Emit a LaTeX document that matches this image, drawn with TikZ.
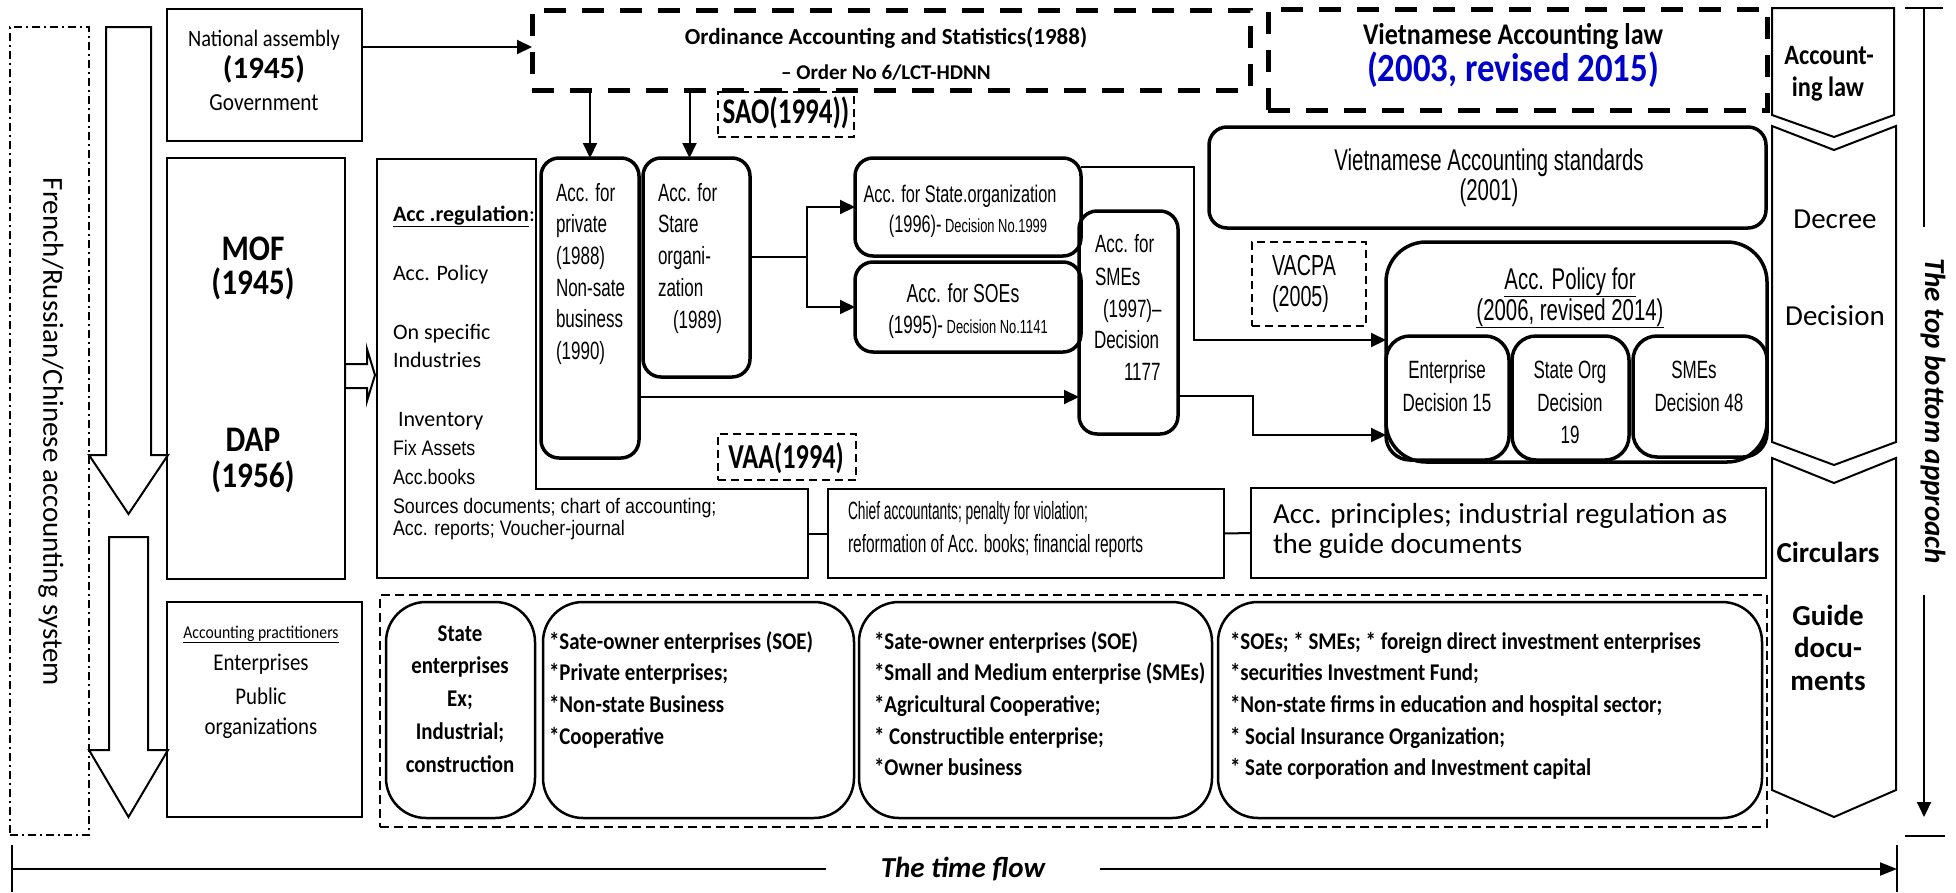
\documentclass[tikz,border=0pt]{standalone}
\usepackage{fontspec}
\setmainfont{Carlito}
\newfontfamily\calcond[FakeStretch=0.87]{Carlito}
\newfontfamily\calvcond[FakeStretch=0.75]{Carlito}
\newfontfamily\arnar[FakeStretch=0.85]{Liberation Sans}
\newfontfamily\arcond[FakeStretch=0.68]{Liberation Sans}
\newfontfamily\arcondb[FakeStretch=0.62]{Liberation Sans}
\newfontfamily\arxcond[FakeStretch=0.55]{Liberation Sans}
\usetikzlibrary{arrows.meta}
\definecolor{lawblue}{RGB}{0,0,204}
\newcommand\fsz[1]{\fontsize{#1}{#1}\selectfont}
% box from corner (x1,y1) to (x2,y2): name, style, x1, y1, x2, y2
\newcommand\placebox[6]{%
  \pgfmathsetmacro\pbw{#5-(#3)}%
  \pgfmathsetmacro\pbh{#6-(#4)}%
  \pgfmathsetmacro\pbx{(#3+#5)/2}%
  \pgfmathsetmacro\pby{(#4+#6)/2}%
  \node[#2,minimum width=\pbw pt,minimum height=\pbh pt] (#1) at (\pbx,\pby) {};}
\tikzset{
  every node/.style={inner sep=0pt, outer sep=0pt},
  plainbox/.style={draw, line width=2.2pt},
  thickbox/.style={draw, line width=3.5pt, rounded corners=18pt},
  lawbox/.style={draw, line width=5pt, dash pattern=on 22pt off 16pt},
  tagbox/.style={draw, line width=1.8pt, dash pattern=on 8pt off 5pt},
  groupbox/.style={draw, line width=1.8pt, dash pattern=on 9pt off 5pt},
  itembox/.style={draw, line width=2.5pt, rounded corners=40pt},
  link/.style={line width=2pt},
  arr/.style={link, -{Triangle[length=15pt,width=14pt]}},
  chev/.style={draw, line width=2pt},
}
\begin{document}
\begin{tikzpicture}[x=1pt,y=-1pt]
\useasboundingbox (0,0) rectangle (1956,892);

% ---------- left column ----------
\placebox{frs}{draw, line width=1.8pt, dash pattern=on 8pt off 4pt on 2pt off 4pt}{10}{27}{89}{835}
\node[rotate=-90, font=\fsz{29}] (frt) at (51,432) {French/Russian/Chinese accounting system};
\draw[chev] (106,27) -- (151,27) -- (151,455) -- (168,455) -- (128.5,514) -- (89,455) -- (106,455) -- cycle;
\draw[chev] (109,537) -- (148,537) -- (148,750) -- (168,750) -- (128.5,817) -- (89,750) -- (109,750) -- cycle;

\placebox{nat}{plainbox}{167}{9}{362}{141}
\node[font=\calcond\fsz{23.5}, anchor=base] (nat-1) at (264,46) {National assembly};
\node[font=\bfseries\fsz{31}, anchor=base] (nat-2) at (264,78) {(1945)};
\node[font=\calcond\fsz{24.5}, anchor=base] (nat-3) at (264,110) {Government};

\placebox{mof}{plainbox}{167}{158}{345}{579}
\node[font=\calcond\bfseries\fsz{36}, anchor=base] (mof-1) at (253,260) {MOF};
\node[font=\calcond\bfseries\fsz{36}, anchor=base] (mof-2) at (253,294) {(1945)};
\node[font=\calcond\bfseries\fsz{36}, anchor=base] (dap-1) at (253,451) {DAP};
\node[font=\calcond\bfseries\fsz{36}, anchor=base] (dap-2) at (253,487) {(1956)};

\placebox{prac}{plainbox}{167}{602}{362}{817}
\node[font=\calcond\fsz{18}, anchor=base] (prac-1) at (261,638) {\underline{Accounting practitioners}};
\node[font=\calcond\fsz{24}, anchor=base] (prac-2) at (261,670) {Enterprises};
\node[font=\calcond\fsz{24}, anchor=base] (prac-3) at (261,704) {Public};
\node[font=\calcond\fsz{24}, anchor=base] (prac-4) at (261,734) {organizations};

% hollow arrow MOF -> regulations
\draw[chev] (345,364) -- (367,364) -- (367,349) -- (375,375) -- (367,401) -- (367,388) -- (345,388) -- cycle;

% ---------- regulation block ----------
\draw[link] (377,159) -- (536,159) -- (536,489) -- (808,489) -- (808,578) -- (377,578) -- cycle;
\placebox{reg}{}{377}{489}{808}{578}
\node[font=\fsz{22}, anchor=base west] (rg-1) at (393,221) {\textbf{\underline{Acc .regulation}}:};
\node[font=\fsz{22}, anchor=base west] (rg-2) at (393,280) {Acc. Policy};
\node[font=\fsz{22}, anchor=base west] (rg-3) at (393,339) {On specific};
\node[font=\fsz{22}, anchor=base west] (rg-4) at (393,367) {Industries};
\node[font=\fsz{22}, anchor=base west] (rg-5) at (398,426) {Inventory};
\node[font=\arnar\fsz{21}, anchor=base west] (rg-6) at (393,455) {Fix Assets};
\node[font=\arnar\fsz{21}, anchor=base west] (rg-7) at (393,484) {Acc.books};
\node[font=\arnar\fsz{21}, anchor=base west] (rg-8) at (393,513) {Sources documents; chart of accounting;};
\node[font=\arnar\fsz{21}, anchor=base west] (rg-9) at (393,535) {Acc. reports; Voucher-journal};

% ---------- laws ----------
\placebox{ord}{lawbox}{532}{10}{1250}{90}
\node[font=\bfseries\fsz{23}, anchor=base] (ord-1) at (886,44) {Ordinance Accounting and Statistics(1988)};
\node[font=\bfseries\fsz{21}, anchor=base] (ord-2) at (886,79) {– Order No 6/LCT-HDNN};

\placebox{val}{lawbox}{1268}{9}{1767}{110}
\node[font=\calcond\bfseries\fsz{30}, anchor=base] (val-1) at (1513,44) {Vietnamese Accounting law};
\node[font=\calcond\bfseries\fsz{40}, text=lawblue, anchor=base] (val-2) at (1513,81) {(2003, revised 2015)};

\placebox{sao}{tagbox}{718}{92}{854}{137}
\node[font=\calvcond\bfseries\fsz{36}, anchor=base] (sao-t) at (786,123) {SAO(1994))};

\draw[arr] ([yshift=-38pt]nat.north east) -- ([yshift=-38pt]nat.north east -| ord.west);

% ---------- accounting regimes ----------
\placebox{priv}{thickbox}{541}{158}{639}{458}
\foreach \t [count=\i] in {{Acc. for},{private},{(1988)},{Non-sate},{business},{(1990)}}
  \node[font=\arcond\fsz{25}, anchor=base west] (priv-\i) at (556,{201+31.7*(\i-1)}) {\t};

\placebox{stare}{thickbox}{643}{158}{750}{377}
\foreach \t [count=\i] in {{Acc. for},{Stare},{organi-},{zation}}
  \node[font=\arcond\fsz{25}, anchor=base west] (stare-\i) at (658,{201+31.7*(\i-1)}) {\t};
\node[font=\arcond\fsz{25}, anchor=base west] (stare-5) at (673,328) {(1989)};

\draw[arr] (priv.north |- ord.south) -- (priv.north);
\draw[arr] ([xshift=-7pt]stare.north |- ord.south) -- ([xshift=-7pt]stare.north);

\placebox{sorg}{thickbox}{855}{158}{1081}{256}
\node[font=\arcond\fsz{24}, anchor=base] (sorg-1) at (960,202) {Acc. for State.organization};
\node[font=\arcond\fsz{24}, anchor=base] (sorg-2) at (968,232) {(1996)-\fsz{19} Decision No.1999};

\placebox{soe}{thickbox}{855}{262}{1081}{352}
\node[font=\arcond\fsz{26}, anchor=base] (soe-1) at (963,302) {Acc. for SOEs};
\node[font=\arcond\fsz{25}, anchor=base] (soe-2) at (968,333) {(1995)-\fsz{19} Decision No.1141};

\coordinate (brn) at (807,257);
\draw[link] (stare.east |- brn) -- (brn);
\draw[arr] (brn) |- (sorg.west);
\draw[arr] (brn) |- (soe.west);

\placebox{smes}{thickbox}{1079}{211}{1178}{434}
\node[font=\arcond\fsz{25}, anchor=base west] (smes-1) at (1095,252) {Acc. for};
\node[font=\arcond\fsz{25}, anchor=base west] (smes-2) at (1095,285) {SMEs};
\node[font=\arcond\fsz{25}, anchor=base west] (smes-3) at (1103,317) {(1997)–};
\node[font=\arcond\fsz{25}, anchor=base west] (smes-4) at (1094,348) {Decision};
\node[font=\arcond\fsz{25}, anchor=base west] (smes-5) at (1124,380) {1177};

\draw[arr] ([yshift=-89pt]priv.east) -- ([yshift=-89pt]priv.east -| smes.west);

\placebox{vaa}{tagbox}{718}{434}{856}{480}
\node[font=\calvcond\bfseries\fsz{35}, anchor=base] (vaa-t) at (786,468) {VAA(1994)};

% ---------- standards and policies ----------
\placebox{vas}{thickbox}{1209}{127}{1766}{228}
\node[font=\arcond\fsz{30}, anchor=base] (vas-1) at (1489,170) {Vietnamese Accounting standards};
\node[font=\arcond\fsz{30}, anchor=base] (vas-2) at (1489,200) {(2001)};

\placebox{vacpa}{tagbox}{1252}{242}{1366}{326}
\node[font=\arcond\fsz{29}, anchor=base west] (vacpa-1) at (1272,275) {VACPA};
\node[font=\arcond\fsz{29}, anchor=base west] (vacpa-2) at (1272,306) {(2005)};

\placebox{pol}{thickbox, rounded corners=40pt}{1386}{242}{1767}{462}
\node[font=\arcond\fsz{30}, anchor=base] (pol-1) at (1570,289) {\underline{Acc. Policy for}};
\node[font=\arcond\fsz{30}, anchor=base] (pol-2) at (1570,320) {\underline{(2006, revised 2014)}};

\placebox{ent}{thickbox, rounded corners=24pt}{1386}{336}{1509}{460}
\node[font=\arcond\fsz{25}, anchor=base] (ent-1) at (1447,378) {Enterprise};
\node[font=\arcond\fsz{25}, anchor=base] (ent-2) at (1447,411) {Decision 15};

\placebox{sorgb}{thickbox, rounded corners=24pt}{1512}{336}{1629}{460}
\node[font=\arcond\fsz{25}, anchor=base] (sorgb-1) at (1570,378) {State Org};
\node[font=\arcond\fsz{25}, anchor=base] (sorgb-2) at (1570,411) {Decision};
\node[font=\arcond\fsz{25}, anchor=base] (sorgb-3) at (1570,443) {19};

\placebox{smesb}{thickbox, rounded corners=24pt}{1633}{336}{1767}{457}
\node[font=\arcond\fsz{25}, anchor=base] (smesb-1) at (1694,378) {SMEs};
\node[font=\arcond\fsz{25}, anchor=base] (smesb-2) at (1699,411) {Decision 48};

\draw[arr] ([yshift=-9pt]sorg.north east) -- ++(113,0) |- ([yshift=12pt]pol.west);
\draw[arr] ([yshift=-73.5pt]smes.east) -- ++(75,0) |- ([yshift=-37pt]ent.west);

% ---------- circulars row ----------
\placebox{chief}{plainbox}{828}{489}{1224}{578}
\node[font=\arxcond\fsz{25}, anchor=base west] (chief-1) at (848,519) {Chief accountants; penalty for violation;};
\node[font=\arcondb\fsz{25}, anchor=base west] (chief-2) at (848,552) {reformation of Acc. books; financial reports};

\placebox{acp}{plainbox}{1251}{488}{1766}{578}
\node[font=\fsz{29}, anchor=base west] (acp-1) at (1273,523) {Acc. principles; industrial regulation as};
\node[font=\fsz{29}, anchor=base west] (acp-2) at (1273,553) {the guide documents};

\draw[link] (reg.east) -- (chief.west);
\draw[link] (chief.east) -- (acp.west);

% ---------- guide documents row ----------
\placebox{grp}{groupbox}{380}{595}{1767}{827}
\placebox{bx1}{itembox}{386}{602}{535}{818}
\placebox{bx2}{itembox}{543}{602}{854}{818}
\placebox{bx3}{itembox}{859}{602}{1212}{818}
\placebox{bx4}{itembox}{1218}{602}{1762}{818}
\foreach \t [count=\i] in {{State},{enterprises},{Ex;},{Industrial;},{construction}}
  \node[font=\calcond\bfseries\fsz{24}, anchor=base] (bx1-\i) at (460,{641+32.8*(\i-1)}) {\t};
\foreach \t [count=\i] in {{*Sate-owner enterprises (SOE)},{*Private enterprises;},{*Non-state Business},{*Cooperative}}
  \node[font=\calcond\bfseries\fsz{24}, anchor=base west] (bx2-\i) at (549,{649+31.7*(\i-1)}) {\t};
\foreach \t [count=\i] in {{*Sate-owner enterprises (SOE)},{*Small and Medium enterprise (SMEs)},{*Agricultural Cooperative;},{* Constructible enterprise;},{*Owner business}}
  \node[font=\calcond\bfseries\fsz{24}, anchor=base west] (bx3-\i) at (874,{649+31.7*(\i-1)}) {\t};
\foreach \t [count=\i] in {{*SOEs; * SMEs; * foreign direct investment enterprises},{*securities Investment Fund;},{*Non-state firms in education and hospital sector;},{* Social Insurance Organization;},{* Sate corporation and Investment capital}}
  \node[font=\calcond\bfseries\fsz{24}, anchor=base west] (bx4-\i) at (1230,{649+31.7*(\i-1)}) {\t};

% ---------- right column: levels ----------
\draw[chev] (1772,8) -- (1894,8) -- (1894,115) -- (1834,137) -- (1772,115) -- cycle;
\draw[chev] (1772,126) -- (1834,150) -- (1896,126) -- (1896,442) -- (1834,465) -- (1772,442) -- cycle;
\draw[chev] (1772,458) -- (1834,483) -- (1896,458) -- (1896,790) -- (1834,817) -- (1772,790) -- cycle;
\node[font=\calcond\bfseries\fsz{28}, anchor=base] (lv-1) at (1829,64) {Account-};
\node[font=\calcond\bfseries\fsz{28}, anchor=base] (lv-2) at (1828,96) {ing law};
\node[font=\fsz{29}, anchor=base] (lv-3) at (1835,228) {Decree};
\node[font=\fsz{29}, anchor=base] (lv-4) at (1835,325) {Decision};
\node[font=\bfseries\fsz{29}, anchor=base] (lv-5) at (1828,562) {Circulars};
\node[font=\bfseries\fsz{29}, anchor=base] (lv-6) at (1828,625) {Guide};
\node[font=\bfseries\fsz{29}, anchor=base] (lv-7) at (1828,657) {docu-};
\node[font=\bfseries\fsz{29}, anchor=base] (lv-8) at (1828,690) {ments};

% top-down axis
\node[rotate=-90, font=\bfseries\itshape\fsz{29}, minimum width=368pt] (tba) at (1933,411) {The top bottom approach};
\coordinate (vt) at (1924,8);
\coordinate (vb) at (1924,817);
\coordinate (vbar) at (1925,836);
\draw[link] ([xshift=-19pt]vt) -- ([xshift=19pt]vt);
\draw[link] (vt) -- (vt |- tba.west);
\draw[arr] (vt |- tba.east) -- (vb);
\draw[link] ([xshift=-20pt]vbar) -- ([xshift=20pt]vbar);

% time axis
\node[font=\bfseries\itshape\fsz{29}, minimum width=274pt] (tf) at (963,869) {The time flow};
\coordinate (tfl) at (12,869);
\coordinate (tfr) at (1897,869);
\draw[link] ([yshift=24pt]tfl) -- ([yshift=-23pt]tfl);
\draw[link] ([yshift=24pt]tfr) -- ([yshift=-23pt]tfr);
\draw[link] (tfl) -- (tf.west);
\draw[link, -{Triangle[length=17pt,width=13pt]}] (tf.east) -- (tfr);
\end{tikzpicture}
\end{document}
